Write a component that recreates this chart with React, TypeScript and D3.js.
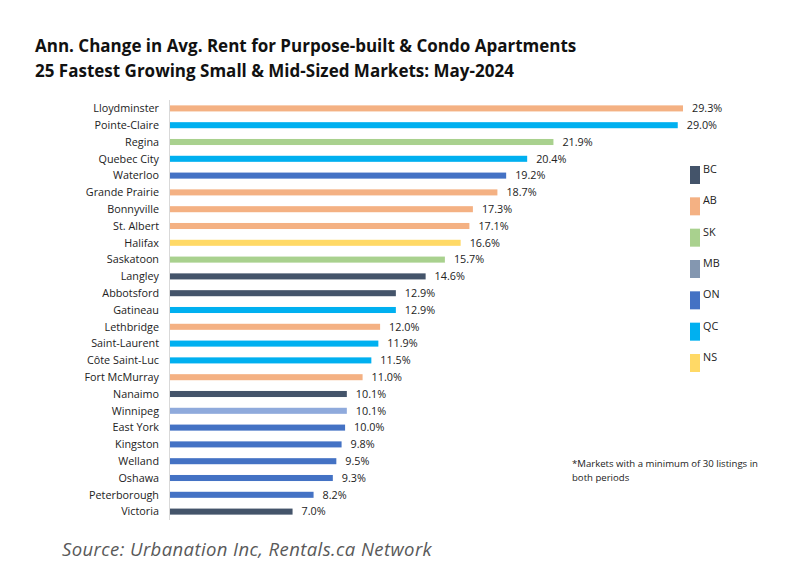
import React from "react";
import * as d3 from "d3";

const markets = ["Lloydminster","Pointe-Claire","Regina","Quebec City","Waterloo","Grande Prairie","Bonnyville","St. Albert","Halifax","Saskatoon","Langley","Abbotsford","Gatineau","Lethbridge","Saint-Laurent","Côte Saint-Luc","Fort McMurray","Nanaimo","Winnipeg","East York","Kingston","Welland","Oshawa","Peterborough","Victoria"];
const changes = [29.3,29.0,21.9,20.4,19.2,18.7,17.3,17.1,16.6,15.7,14.6,12.9,12.9,12.0,11.9,11.5,11.0,10.1,10.1,10.0,9.8,9.5,9.3,8.2,7.0];
const provinces = ["AB","QC","SK","QC","ON","AB","AB","AB","NS","SK","BC","BC","QC","AB","QC","QC","AB","BC","MB","ON","ON","ON","ON","ON","BC"];
const legendKeys = ["BC","AB","SK","MB","ON","QC","NS"];
const legendColors = ["#44546A","#F4B183","#A9D18E","#8497B0","#4472C4","#00B0F0","#FFD966"];
const barColors: Record<string, string> = { BC: "#44546A", AB: "#F4B183", SK: "#A9D18E", MB: "#8FAADC", ON: "#4472C4", QC: "#00B0F0", NS: "#FFD966" };

const W = 800, H = 567;
const FONT = "'Open Sans', Lato, sans-serif";

export default function App() {
  const x = d3.scaleLinear().domain([0, 29.3]).range([170, 683]);
  const y = d3.scaleBand().domain(markets).range([100, 520]).paddingInner(0.64).paddingOuter(0.32);
  const legendY = d3.scalePoint().domain(legendKeys).range([166, 354]);
  return (
    <svg width={W} height={H} style={{ position: "absolute", left: 0, top: 0, background: "#fff" }} fontFamily={FONT}>
      <text x={35} y={52} fontSize={17} fontWeight={700} fill="#111">Ann. Change in Avg. Rent for Purpose-built &amp; Condo Apartments</text>
      <text x={35} y={77} fontSize={17} fontWeight={700} fill="#111">25 Fastest Growing Small &amp; Mid-Sized Markets: May-2024</text>
      <line x1={169.5} x2={169.5} y1={100} y2={520} stroke="#d9d9d9" strokeWidth={1} />
      {markets.map((m, i) => {
        const yy = y(m)!;
        const bw = y.bandwidth();
        return (
          <g key={m}>
            <text x={159} y={yy + bw / 2} dy="0.35em" textAnchor="end" fontSize={10.8} fill="#222">{m}</text>
            <rect x={x(0)} y={yy} width={x(changes[i]) - x(0)} height={bw} fill={barColors[provinces[i]]} />
            <text x={x(changes[i]) + 9} y={yy + bw / 2} dy="0.35em" fontSize={10.8} fill="#222">{changes[i].toFixed(1)}%</text>
          </g>
        );
      })}
      {legendKeys.map((k, i) => (
        <g key={k}>
          <rect x={690} y={legendY(k)!} width={10} height={18} fill={legendColors[i]} />
          <text x={703} y={legendY(k)! + 7} fontSize={10.8} fill="#222">{k}</text>
        </g>
      ))}
      <text x={572} y={467} fontSize={9.6} fill="#222">*Markets with a minimum of 30 listings in</text>
      <text x={572} y={481} fontSize={9.6} fill="#222">both periods</text>
      <text x={62} y={556} fontSize={18.5} letterSpacing={0.4} fontStyle="italic" fill="#595959">Source: Urbanation Inc, Rentals.ca Network</text>
    </svg>
  );
}
